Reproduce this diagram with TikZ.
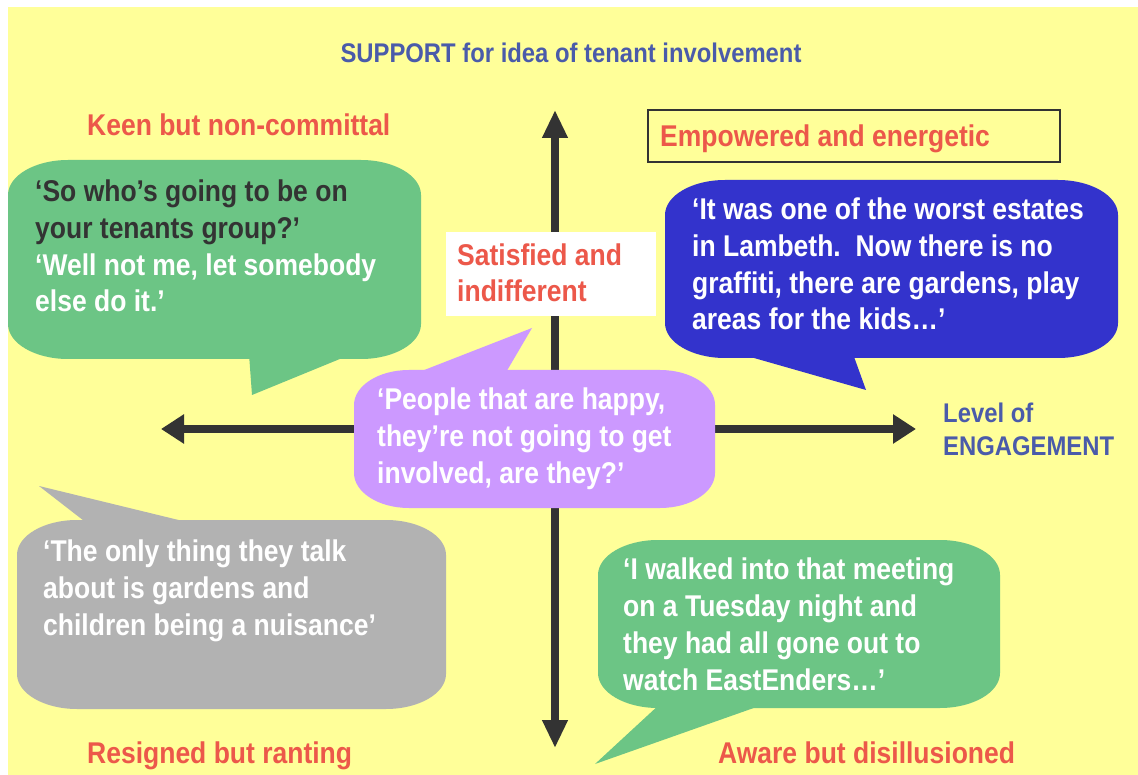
\documentclass[tikz,border=0pt]{standalone}
\usepackage{fontspec}
\setmainfont{Liberation Sans}[FakeStretch=0.883]
\usetikzlibrary{arrows.meta}
\definecolor{bgyellow}{HTML}{FFFF99}
\definecolor{bgreen}{HTML}{6CC585}
\definecolor{bblue}{HTML}{3333CC}
\definecolor{bpurple}{HTML}{CC99FF}
\definecolor{bgray}{HTML}{B2B2B2}
\definecolor{tred}{HTML}{EC584A}
\definecolor{tblue}{HTML}{4A5BAA}
\definecolor{dark}{HTML}{333333}
\newcommand{\rrbox}[7]{%
  \fill[#1] (#2,#3+#7) .. controls (#2,#3+0.448*#7) and (#2+0.448*#6,#3) .. (#2+#6,#3)
    -- (#4-#6,#3) .. controls (#4-0.448*#6,#3) and (#4,#3+0.448*#7) .. (#4,#3+#7)
    -- (#4,#5-#7) .. controls (#4,#5-0.448*#7) and (#4-0.448*#6,#5) .. (#4-#6,#5)
    -- (#2+#6,#5) .. controls (#2+0.448*#6,#5) and (#2,#5-0.448*#7) .. (#2,#5-#7) -- cycle;}
\tikzset{
  x=1pt, y=-1pt,
  bigtxt/.style={font=\fontsize{30}{36.7}\selectfont\bfseries, inner sep=0pt, anchor=base west, align=left},
  midtxt/.style={font=\fontsize{27}{33}\selectfont\bfseries, inner sep=0pt, text=tblue},
  label/.style={bigtxt, text=tred},
  quote/.style={bigtxt, text=white},
  axis/.style={line width=8pt, draw=dark},
}
\begin{document}
\begin{tikzpicture}
\useasboundingbox (0,0) rectangle (1138,775);
\fill[white] (0,0) rectangle (1138,775);
\fill[bgyellow] (8,7) rectangle (1138,775);

% axes
\coordinate (L) at (161,429);
\coordinate (R) at (916,429);
\coordinate (T) at (555,110);
\coordinate (B) at (555,748);
\draw[axis, {Triangle[length=23pt,width=28pt]}-{Triangle[length=23pt,width=28pt]}] (L) -- (R);
\draw[axis, {Triangle[length=28pt,width=24pt]}-{Triangle[length=28pt,width=24pt]}] (T) -- (B);

% title and axis label
\node[midtxt, anchor=base] (title) at (571,63) {SUPPORT for idea of tenant involvement};
\node[midtxt, anchor=base west, align=left] (level) at (943,423) {Level of};
\node[midtxt, anchor=base west, align=left] (engage) at (943,456) {ENGAGEMENT};

% quadrant labels (multi-line nodes: base = last line's baseline)
\node[label] (keen) at (87,136) {Keen but non-committal};
\draw[dark, line width=1.5pt, fill=bgyellow] (648,110) rectangle (1060,162);
\node[label] (empower) at (660,147) {Empowered and energetic};
\fill[white] (446,232) rectangle (656,316);
\node[label] (satis) at (457,302) {Satisfied and\\indifferent};
\node[label] (resign) at (87,763) {Resigned but ranting};
\node[label] (aware) at (718,763) {Aware but disillusioned};

% green bubble top-left
\rrbox{bgreen}{8}{160}{421}{359}{60}{35}
\fill[bgreen] (249,354) -- (252,395) -- (352,354) -- cycle;
\node[quote] (q1) at (35,312) {\textcolor{dark}{‘So who’s going to be on}\\\textcolor{dark}{your tenants group?’}\\‘Well not me, let somebody\\else do it.’};

% blue bubble top-right
\rrbox{bblue}{665}{180}{1118}{358}{60}{35}
\fill[bblue] (740,354) -- (866,390) -- (853,354) -- cycle;
\node[quote] (q2) at (692,330) {‘It was one of the worst estates\\in Lambeth.\ \ Now there is no\\graffiti, there are gardens, play\\areas for the kids…’};

% purple bubble centre
\rrbox{bpurple}{354}{370}{715}{508}{55}{35}
\fill[bpurple] (414,374) -- (532,328) -- (505,374) -- cycle;
\node[quote] (q3) at (377,483) {‘People that are happy,\\they’re not going to get\\involved, are they?’};

% gray bubble bottom-left
\rrbox{bgray}{17}{520}{446}{709}{60}{35}
\fill[bgray] (88,524) -- (39,486) -- (195,524) -- cycle;
\node[quote] (q4) at (43,635) {‘The only thing they talk\\about is gardens and\\children being a nuisance’};

% green bubble bottom-right
\rrbox{bgreen}{598}{540}{1000}{708}{60}{35}
\fill[bgreen] (660,704) -- (595,764) -- (765,704) -- cycle;
\node[quote] (q5) at (623,690) {‘I walked into that meeting\\on a Tuesday night and\\they had all gone out to\\watch EastEnders…’};
\end{tikzpicture}
\end{document}
